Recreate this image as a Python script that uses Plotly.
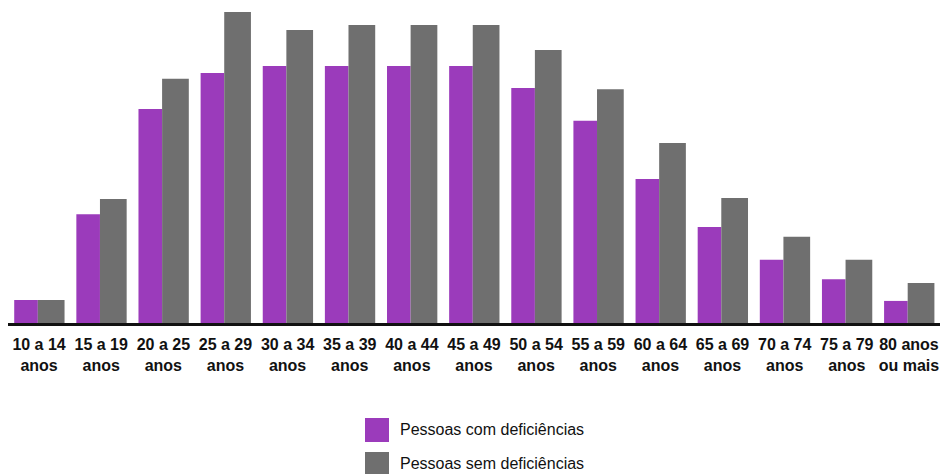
import plotly.graph_objects as go

categories = ["10 a 14<br>anos", "15 a 19<br>anos", "20 a 25<br>anos", "25 a 29<br>anos",
              "30 a 34<br>anos", "35 a 39<br>anos", "40 a 44<br>anos", "45 a 49<br>anos",
              "50 a 54<br>anos", "55 a 59<br>anos", "60 a 64<br>anos", "65 a 69<br>anos",
              "70 a 74<br>anos", "75 a 79<br>anos", "80 anos<br>ou mais"]
com_def = [0.74, 3.50, 6.88, 8.04, 8.26, 8.26, 8.26, 8.26, 7.56, 6.50, 4.63, 3.09, 2.03, 1.41, 0.71]
sem_def = [0.74, 3.99, 7.85, 10.0, 9.42, 9.58, 9.58, 9.58, 8.78, 7.52, 5.79, 4.02, 2.77, 2.03, 1.29]
series_names = ["Pessoas com deficiências", "Pessoas sem deficiências"]

PURPLE = "#9B3BBB"
GRAY = "#6F6F6F"

W, H = 940, 474
ML, MR, MT, MB = 8, 0, 12, 151
PW, PH = W - ML - MR, H - MT - MB

def px_x(x):
    return (x - ML) / PW

def px_y(y):
    return (H - MB - y) / PH

fig = go.Figure()
fig.add_trace(go.Bar(x=categories, y=com_def, name=series_names[0], marker_color=PURPLE,
                     marker_line_width=0, width=0.38, offset=-0.40, showlegend=False))
fig.add_trace(go.Bar(x=categories, y=sem_def, name=series_names[1], marker_color=GRAY,
                     marker_line_width=0, width=0.43, offset=-0.02, showlegend=False))

tick_font = dict(family="Liberation Sans, Arial, sans-serif",
                 size=16, color="#111111", weight="bold")
fig.update_xaxes(type="category", range=[-0.5, 14.5], showline=True, linecolor="#111111",
                 linewidth=3, ticks="", tickfont=tick_font, showgrid=False, zeroline=False,
                 tickangle=0, ticklabelstandoff=5, automargin=False)
fig.update_yaxes(range=[0, 10.0], visible=False, showgrid=False, zeroline=False,
                 automargin=False)

# legend drawn manually
legend_rows = [(418, PURPLE, series_names[0], 430), (452, GRAY, series_names[1], 463)]
for top, col, name, ty in legend_rows:
    fig.add_shape(type="rect", xref="paper", yref="paper",
                  x0=px_x(365), x1=px_x(389), y0=px_y(top + 24), y1=px_y(top),
                  fillcolor=col, line_width=0)
    fig.add_annotation(xref="paper", yref="paper", x=px_x(398), y=px_y(ty),
                       xanchor="left", yanchor="middle", text=name, showarrow=False,
                       font=dict(family="Liberation Sans, Arial, sans-serif", size=16,
                                 color="#111111"))

fig.update_layout(width=W, height=H, margin=dict(l=ML, r=MR, t=MT, b=MB, autoexpand=False),
                  plot_bgcolor="white", paper_bgcolor="white", barmode="group",
                  showlegend=False)

fig.write_html("out.html")
